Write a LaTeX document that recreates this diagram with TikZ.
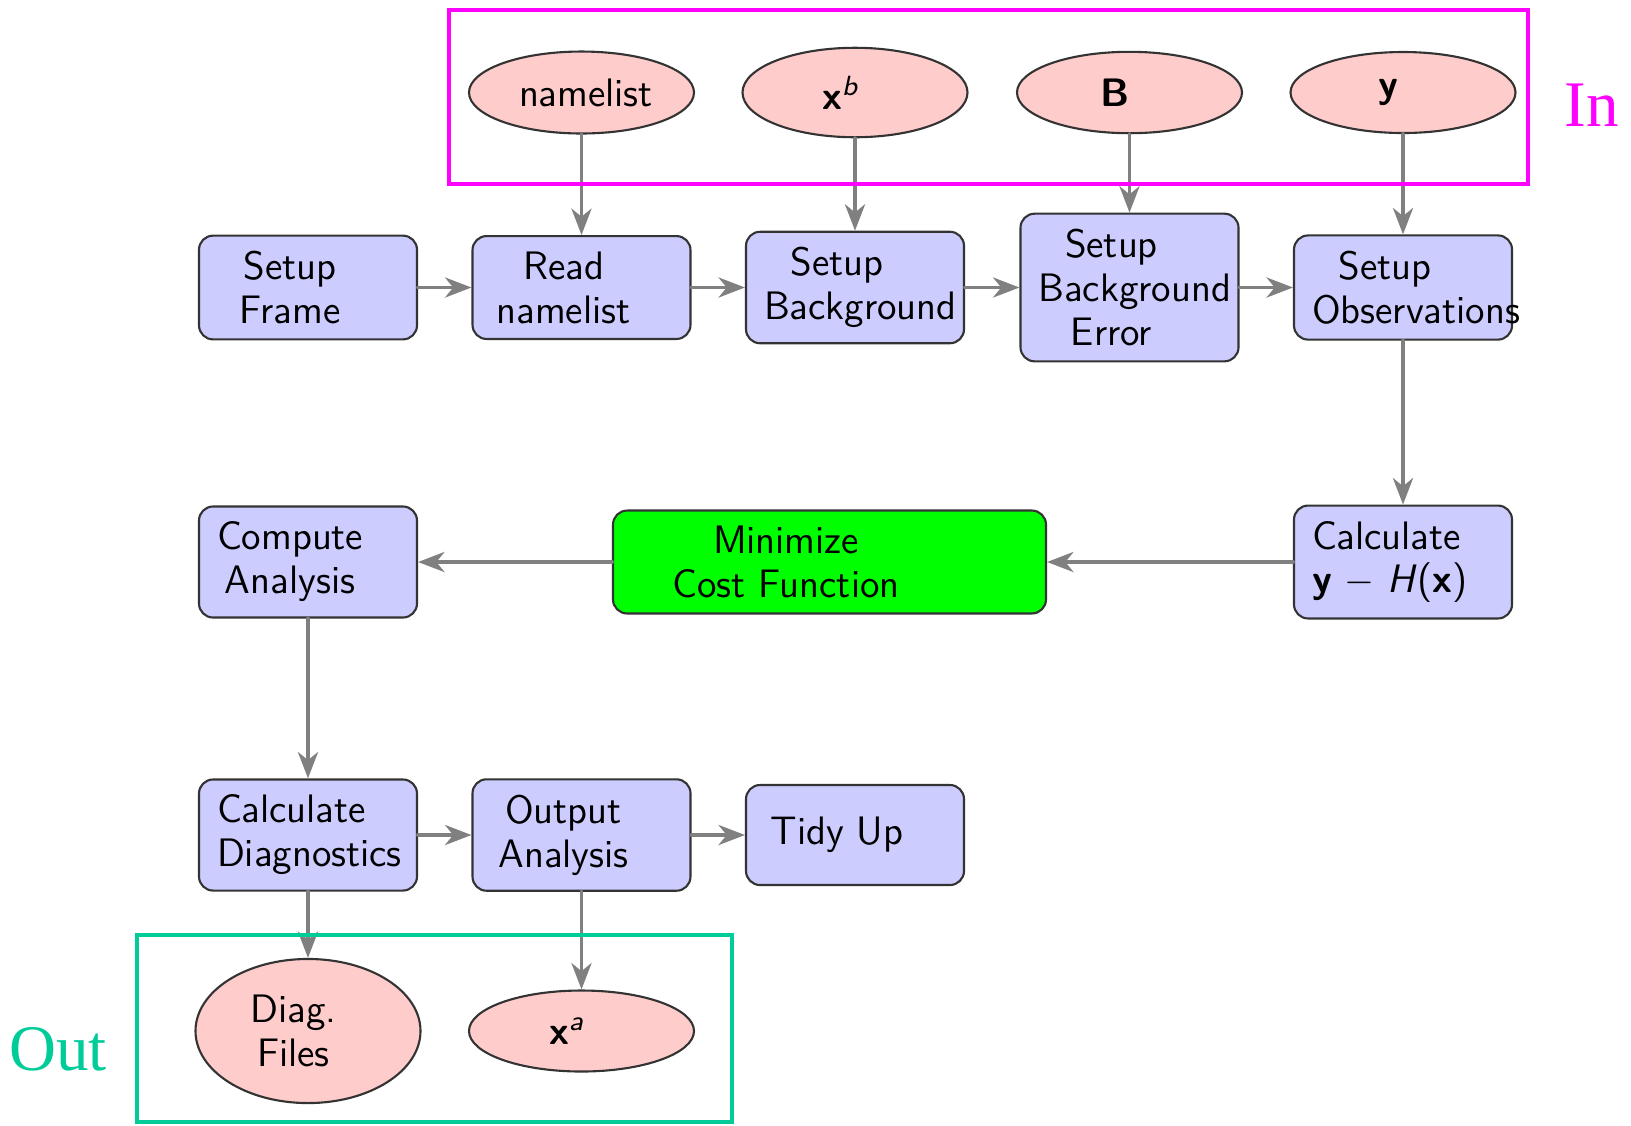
\documentclass[tikz,border=0pt]{standalone}
\usepackage{fontspec}
\newfontfamily\framefont{Liberation Serif}
\usepackage{tikz}
\usetikzlibrary{shapes.geometric}
\usetikzlibrary{arrows.meta}

\definecolor{inframe}{RGB}{255,0,255}
\definecolor{outframe}{RGB}{0,204,153}

\newcommand{\boxlines}[1]{\makebox[1.82cm][l]{\parbox{1.46cm}{\centering\hyphenpenalty=10000 #1}}}
\newcommand{\ovallines}[1]{\makebox[1.25cm][l]{\parbox{0.96cm}{\centering\hyphenpenalty=10000 #1}}}

\begin{document}
\begin{tikzpicture}[line cap=round,line join=round,>={Stealth[length=7.5pt,width=5.7pt,inset=2.3pt]},x=1cm,y=1cm,
        proc/.style={rectangle, rounded corners, draw=black!80, line width=0.6pt, fill=blue!20, inner xsep=0.18cm, inner ysep=0.155cm, minimum height=1cm, font=\sffamily\fontsize{11.3}{12.5}\selectfont},
        dat/.style={ellipse, draw=black!80, line width=0.6pt, fill=red!20, inner sep=0.15cm, minimum width=2.25cm, minimum height=0.81cm, font=\sffamily\fontsize{11.3}{12.5}\selectfont},
        flow/.style={->, draw=gray, line width=1.1pt},
        tag/.style={font=\framefont\fontsize{18.5}{18.5}\selectfont}]
                    \useasboundingbox (0,0) rectangle (16.31,-11.25);

                    \node[proc] (1) at (3.08,-2.875) {\boxlines{Setup\\Frame}};
                    \node[proc] (2) at (5.815,-2.875) {\boxlines{Read\\namelist}};
                    \node[proc] (3) at (8.55,-2.875) {\boxlines{Setup\\Background}};
                    \node[proc] (4) at (11.295,-2.875) {\boxlines{Setup\\Background\\Error}};
                    \node[proc] (5) at (14.03,-2.875) {\boxlines{Setup\\Observations}};

                    \node[proc] (6) at (14.03,-5.62) {\boxlines{Calculate\\\mbox{\textbf{y} $-$ \textit{H}(\textbf{x})}}};
                    \node[proc, fill=green] (7) at (8.295,-5.62) {\makebox[3.97cm][l]{\parbox{3.1cm}{\centering Minimize\\Cost Function}}};
                    \node[proc] (8) at (3.08,-5.62) {\boxlines{Compute\\Analysis}};

                    \node[proc] (9) at (3.08,-8.35) {\boxlines{Calculate\\Diagnostics}};
                    \node[proc] (10) at (5.815,-8.35) {\boxlines{Output\\Analysis}};
                    \node[proc] (11) at (8.55,-8.35) {\boxlines{Tidy Up}};

                    \node[dat] (12) at (5.815,-0.925) {\ovallines{namelist}};
                    \node[dat] (13) at (8.55,-0.925) {\ovallines{\textbf{x}\textsuperscript{\itshape b}}};
                    \node[dat] (14) at (11.295,-0.925) {\ovallines{\textbf{B}}};
                    \node[dat] (15) at (14.03,-0.925) {\ovallines{\textbf{y}}};

                    \node[dat] (16) at (3.08,-10.31) {\ovallines{Diag.\\Files}};
                    \node[dat] (17) at (5.815,-10.31) {\ovallines{\textbf{x}\textsuperscript{\itshape a}}};

                    \draw [flow] (12) -- (2);
                    \draw [flow] (13) -- (3);
                    \draw [flow] (14) -- (4);
                    \draw [flow] (15) -- (5);

                    \draw [flow] (1) -- (2);
                    \draw [flow] (2) -- (3);
                    \draw [flow] (3) -- (4);
                    \draw [flow] (4) -- (5);
                    \draw [flow] (5) -- (6);
                    \draw [flow] (6) -- (7);
                    \draw [flow] (7) -- (8);
                    \draw [flow] (8) -- (9);
                    \draw [flow] (9) -- (10);
                    \draw [flow] (10) -- (11);

                    \draw [flow] (9) -- (16);
                    \draw [flow] (10) -- (17);

                    \draw [inframe, line width=1.4pt, line join=miter] (4.49,-0.10) rectangle (15.28,-1.84);
                    \node[tag, text=inframe] (in) at (15.92,-1.05) {In};

                    \draw [outframe, line width=1.4pt, line join=miter] (1.37,-9.35) rectangle (7.32,-11.22);
                    \node[tag, text=outframe] (out) at (0.58,-10.49) {Out};
                \end{tikzpicture}
\end{document}
